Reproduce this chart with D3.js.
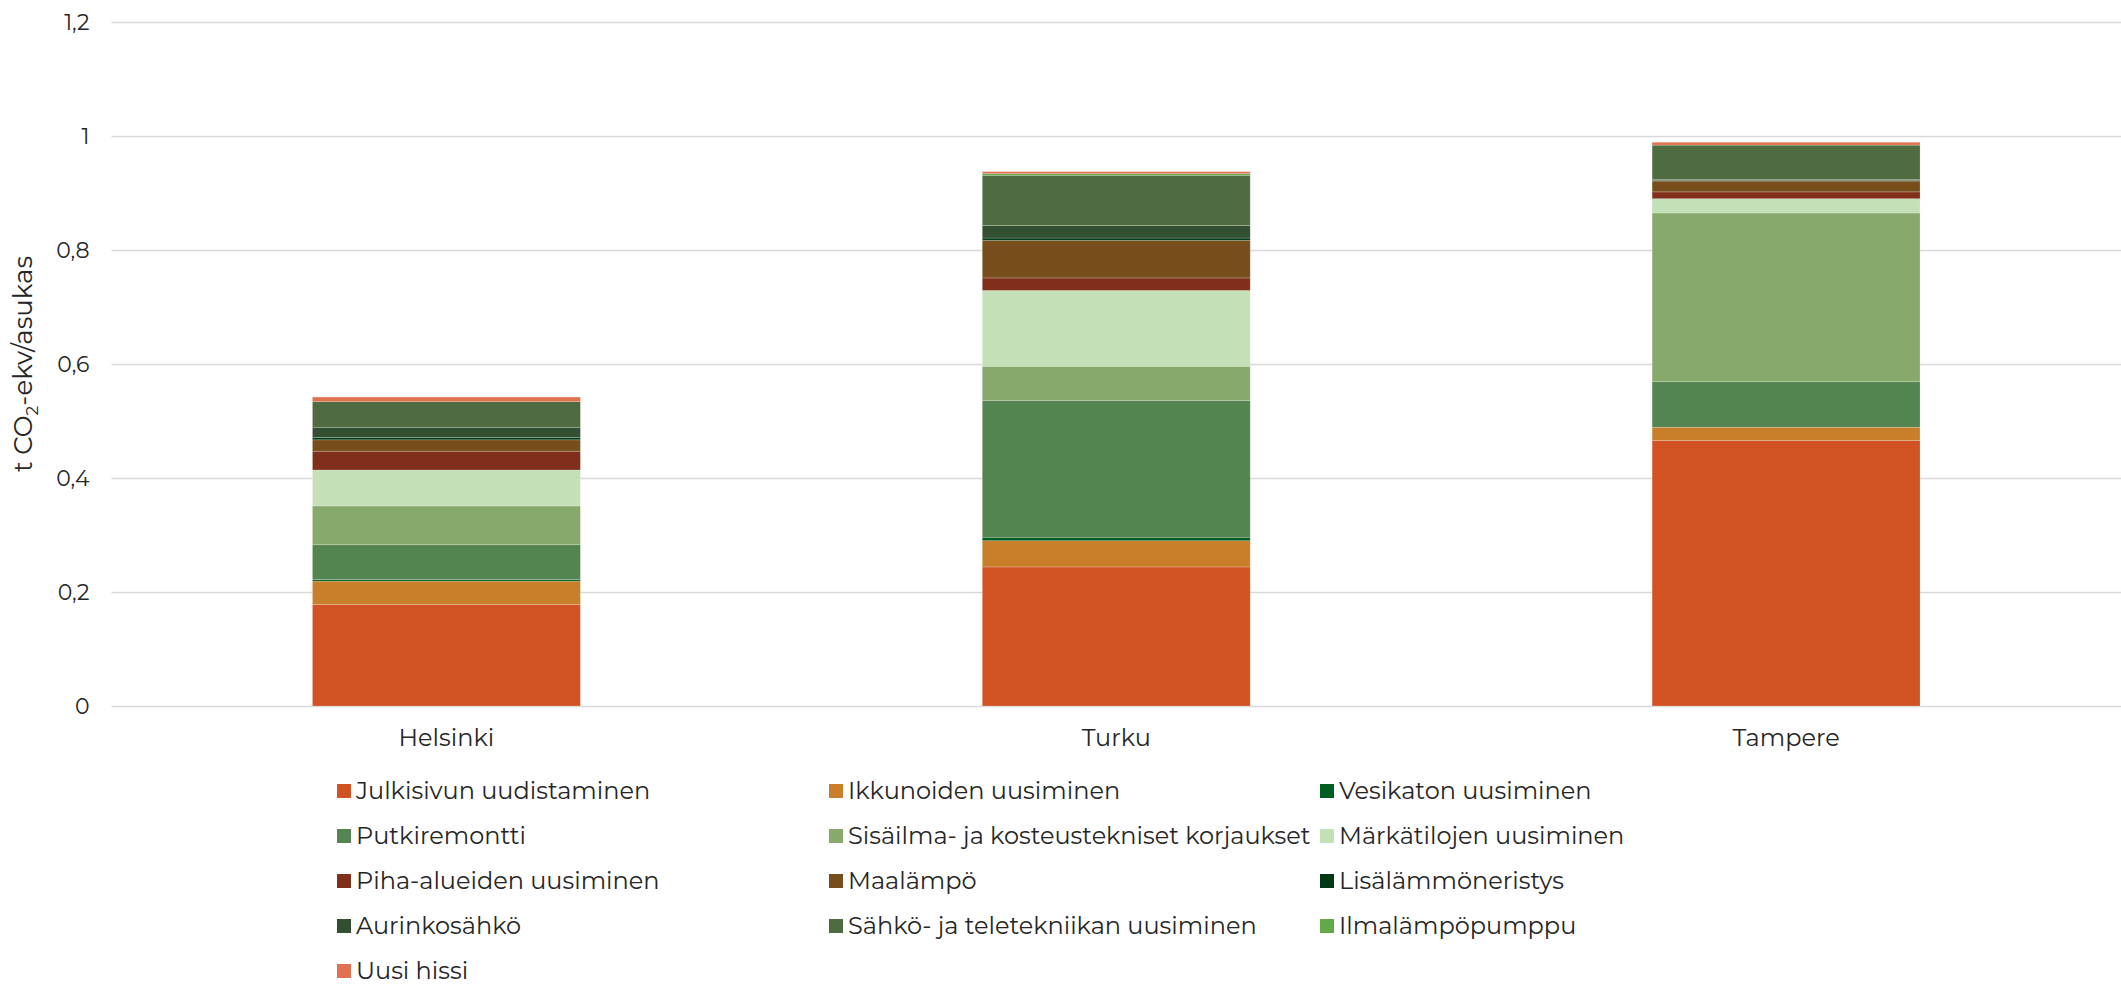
<!DOCTYPE html>
<html>

<head>
    <meta charset='utf-8'>
    <title>Korjausrakentaminen</title>
    <script type='text/javascript' src='https://cdn.jsdelivr.net/npm/d3@7'></script>
    <style>
        body { margin: 0; background: #fff; }
        text { font-family: Montserrat, Lato, 'Open Sans', sans-serif; fill: #262626; }
    </style>
</head>

<body>
    <svg width='2121' height='984'></svg>
    <script type='text/javascript'>

        const cities = ['Helsinki', 'Turku', 'Tampere']

        const seriesNames = [
            'Julkisivun uudistaminen', 'Ikkunoiden uusiminen', 'Vesikaton uusiminen',
            'Putkiremontti', 'Sisäilma- ja kosteustekniset korjaukset', 'Märkätilojen uusiminen',
            'Piha-alueiden uusiminen', 'Maalämpö', 'Lisälämmöneristys',
            'Aurinkosähkö', 'Sähkö- ja teletekniikan uusiminen', 'Ilmalämpöpumppu',
            'Uusi hissi'
        ]

        // t CO2-ekv/asukas, same order as seriesNames
        const helsinkiValues = [0.178, 0.041, 0.003, 0.061, 0.068, 0.063, 0.033, 0.020, 0.004, 0.018, 0.045, 0, 0.008]
        const turkuValues = [0.244, 0.046, 0.006, 0.240, 0.060, 0.133, 0.022, 0.066, 0.004, 0.022, 0.088, 0.003, 0.0035]
        const tampereValues = [0.466, 0.023, 0, 0.080, 0.296, 0.025, 0.012, 0.019, 0.001, 0.002, 0.060, 0, 0.005]

        const yTicks = [0, 0.2, 0.4, 0.6, 0.8, 1, 1.2]

        const seriesColors = [
            '#d35224', '#c97f29', '#005e23',
            '#54844f', '#87aa6c', '#c3e0b7',
            '#80301a', '#774d1b', '#003a14',
            '#324f31', '#4f6b40', '#62aa47',
            '#e0714e'
        ]

        const svg = d3.select('svg')
        const margin = { top: 22, left: 111.5, right: 0, bottom: 278 }
        const width = parseInt(svg.attr('width'))
        const height = parseInt(svg.attr('height'))

        // rows for the stack: one object per city
        const valuesByCity = [helsinkiValues, turkuValues, tampereValues]
        const rows = cities.map((c, i) => {
            const row = { city: c }
            seriesNames.forEach((s, j) => { row[s] = valuesByCity[i][j] })
            return row
        })

        const stacked = d3.stack().keys(seriesNames)(rows)

        const x = d3.scaleBand()
            .domain(cities)
            .range([margin.left, width - margin.right])
            .paddingInner(0.6)
            .paddingOuter(0.3)

        const y = d3.scaleLinear()
            .domain([0, 1.2])
            .range([height - margin.bottom, margin.top])

        const color = d3.scaleOrdinal().domain(seriesNames).range(seriesColors)

        // gridlines + tick labels
        const yAxis = d3.axisLeft(y)
            .tickValues(yTicks)
            .tickSize(-(width - margin.left - margin.right))
            .tickPadding(22)
            .tickFormat(d => String(d).replace('.', ','))

        svg.append('g')
            .attr('transform', `translate(${margin.left},0)`)
            .call(yAxis)
            .call(g => g.select('.domain').remove())
            .call(g => g.selectAll('line').attr('stroke', '#d9d9d9').attr('stroke-width', 1.6))
            .call(g => g.selectAll('text').attr('font-size', 22).attr('fill', '#262626')
                .style('font-family', 'Montserrat, Lato, sans-serif'))

        // stacked bars
        svg.append('g')
            .selectAll('g')
            .data(stacked)
            .join('g')
            .attr('fill', d => color(d.key))
            .selectAll('rect')
            .data(d => d)
            .join('rect')
            .attr('x', d => x(d.data.city))
            .attr('width', x.bandwidth())
            .attr('y', d => y(d[1]))
            .attr('height', d => y(d[0]) - y(d[1]))
            .attr('stroke', '#fff')
            .attr('stroke-opacity', 0.25)
            .attr('stroke-width', 0.8)

        // category labels
        svg.append('g')
            .selectAll('text')
            .data(cities)
            .join('text')
            .attr('x', d => x(d) + x.bandwidth() / 2)
            .attr('y', 746)
            .attr('text-anchor', 'middle')
            .attr('font-size', 24)
            .text(d => d)

        // y axis title
        const yTitle = svg.append('text')
            .attr('transform', `translate(32,${y(0.6)}) rotate(-90)`)
            .attr('text-anchor', 'middle')
            .attr('font-size', 26)
        yTitle.append('tspan').text('t CO')
        yTitle.append('tspan').attr('font-size', 17).attr('dy', 6).text('2')
        yTitle.append('tspan').attr('dy', -6).text('-ekv/asukas')

        // legend, three columns row by row
        const legendCols = [337, 829, 1320]
        const legendTop = 791
        const legendRowH = 45

        const legend = svg.append('g')
            .selectAll('g')
            .data(seriesNames)
            .join('g')
            .attr('transform', (d, i) => `translate(${legendCols[i % 3]},${legendTop + Math.floor(i / 3) * legendRowH})`)

        legend.append('rect')
            .attr('x', 0)
            .attr('y', -7)
            .attr('width', 14)
            .attr('height', 14)
            .attr('fill', d => color(d))

        legend.append('text')
            .attr('x', 19)
            .attr('dy', '0.35em')
            .attr('font-size', 24)
            .text(d => d)
    </script>
</body>

</html>
